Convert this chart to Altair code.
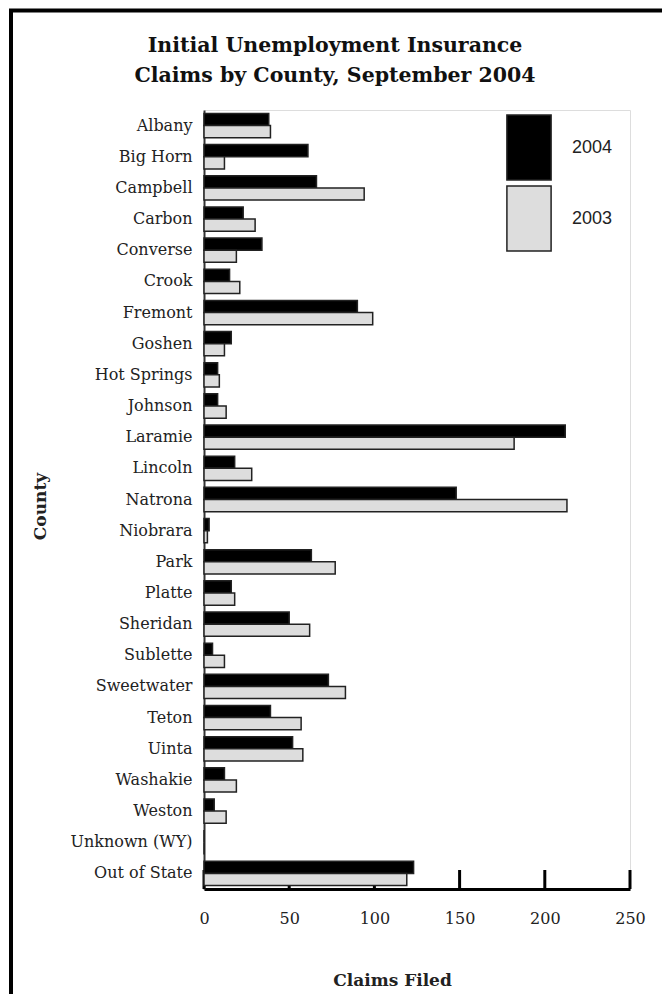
import altair as alt
import pandas as pd

counties = ["Albany", "Big Horn", "Campbell", "Carbon", "Converse", "Crook",
            "Fremont", "Goshen", "Hot Springs", "Johnson", "Laramie", "Lincoln",
            "Natrona", "Niobrara", "Park", "Platte", "Sheridan", "Sublette",
            "Sweetwater", "Teton", "Uinta", "Washakie", "Weston",
            "Unknown (WY)", "Out of State"]
claims_2004 = [38, 61, 66, 23, 34, 15, 90, 16, 8, 8, 212, 18, 148, 3, 63, 16,
               50, 5, 73, 39, 52, 12, 6, 0, 123]
claims_2003 = [39, 12, 94, 30, 19, 21, 99, 12, 9, 13, 182, 28, 213, 2, 77, 18,
               62, 12, 83, 57, 58, 19, 13, 0, 119]
years = ["2004", "2003"]
x_ticks = [0, 50, 100, 150, 200, 250]

rows = []
for c, a, b in zip(counties, claims_2004, claims_2003):
    rows.append({"County": c, "Year": "2004", "Claims": a})
    rows.append({"County": c, "Year": "2003", "Claims": b})
df = pd.DataFrame(rows)

W, H = 426, 779
xscale = alt.Scale(domain=[0, 250], nice=False)

frame = alt.Chart(alt.Data(values=[{}])).mark_rect(
    filled=False, stroke="black", strokeWidth=4
).encode(
    x=alt.value(-193), x2=alt.value(700),
    y=alt.value(-99.5), y2=alt.value(1100),
)

ticks = alt.Chart(pd.DataFrame({"Claims": x_ticks})).mark_rule(
    color="black", strokeWidth=3
).encode(
    x=alt.X("Claims:Q", scale=xscale),
    y=alt.value(H), y2=alt.value(H - 19),
)

bars = alt.Chart(df).mark_bar(stroke="#222222", strokeWidth=1.5).encode(
    x=alt.X("Claims:Q", scale=xscale,
            axis=alt.Axis(values=x_ticks, ticks=False, grid=False,
                          domainColor="black", domainWidth=3,
                          labelFont="DejaVu Serif", labelFontSize=16,
                          labelColor="#222222", labelPadding=21,
                          labelFlush=False,
                          title="Claims Filed", titleFont="DejaVu Serif",
                          titleFontSize=17, titleFontWeight="bold",
                          titleColor="#222222", titleX=188, titleY=91,
                          titleAlign="center", titleBaseline="middle")),
    y=alt.Y("County:N", sort=counties,
            scale=alt.Scale(paddingInner=0.22, paddingOuter=0.11),
            axis=alt.Axis(ticks=False, grid=False, domainColor="#333333",
                          domainWidth=2, labelFont="DejaVu Serif",
                          labelFontSize=16, labelColor="#222222",
                          labelPadding=12, title="County",
                          titleFont="DejaVu Serif", titleFontSize=17,
                          titleFontWeight="bold", titleColor="#222222",
                          titleAngle=-90, titleX=-164, titleY=396,
                          titleAlign="center", titleBaseline="middle")),
    yOffset=alt.YOffset("Year:N", sort=years),
    color=alt.Color("Year:N", sort=years,
                    scale=alt.Scale(domain=years, range=["#000000", "#dddddd"]),
                    legend=alt.Legend(title=None, orient="none",
                                      legendX=291.5, legendY=4,
                                      symbolType="M-0.68,-1L0.68,-1L0.68,1L-0.68,1Z",
                                      symbolSize=4225, symbolStrokeWidth=1.5,
                                      symbolStrokeColor="#222222",
                                      labelFont="Liberation Sans",
                                      labelFontSize=18, labelColor="#222222",
                                      labelOffset=9.5, rowPadding=0,
                                      padding=0)),
)

chart = alt.layer(frame, ticks, bars).properties(
    width=W, height=H,
    title=alt.TitleParams(
        text=["Initial Unemployment Insurance", "Claims by County, September 2004"],
        font="DejaVu Serif", fontSize=20.5, fontWeight="bold", color="#111111",
        anchor="middle", dx=-82, dy=92, lineHeight=30, offset=14,
    ),
    autosize=alt.AutoSizeParams(type="none"),
    padding={"left": 196, "top": 102, "right": 32, "bottom": 105},
).configure_view(stroke=None).configure(background="white")

chart.save("out.html", embed_options={"renderer": "svg", "actions": False})
